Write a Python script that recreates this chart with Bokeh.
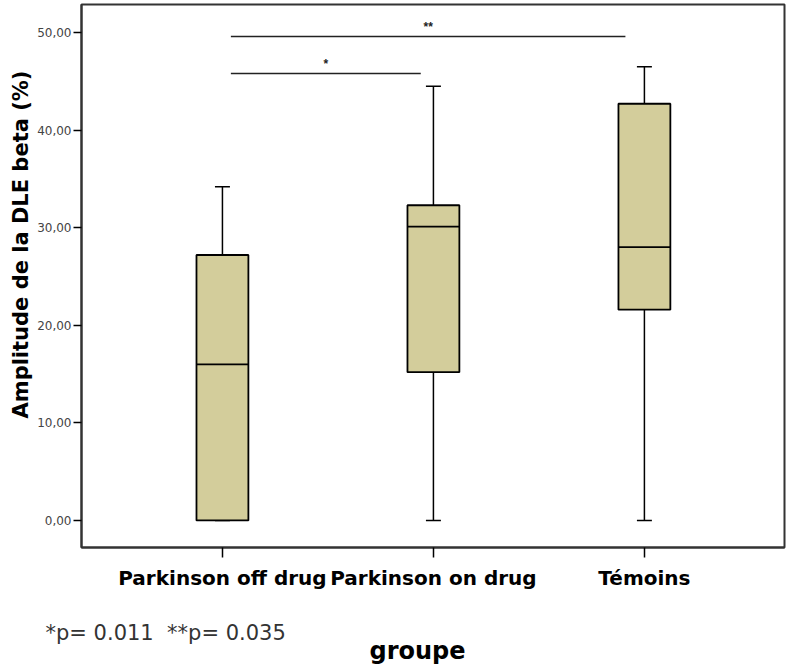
from bokeh.plotting import figure
from bokeh.models import Range1d, FixedTicker, Title, ColumnDataSource
from bokeh.embed import file_html
from bokeh.resources import INLINE

# ---- data ----
groups = ["Parkinson off drug", "Parkinson on drug", "Témoins"]
group_pos = [1, 2, 3]
whisker_low = [0.0, 0.0, 0.0]
q1 = [0.0, 15.2, 21.6]
median = [16.0, 30.1, 28.0]
q3 = [27.2, 32.3, 42.7]
whisker_high = [34.2, 44.5, 46.5]

y_ticks = [0, 10, 20, 30, 40, 50]
y_tick_labels = ["0,00", "10,00", "20,00", "30,00", "40,00", "50,00"]

sig_x0 = [1.04, 1.04]
sig_x1 = [1.94, 2.91]
sig_y = [45.8, 49.6]
sig_label = ["*", "**"]

p_text = "*p= 0.011\u00a0\u00a0**p= 0.035"
x_title = "groupe"
y_title = "Amplitude de la DLE beta (%)"

BOX_W = 0.246
CAP_W = 0.071
FILL = "#d3cd9b"

p = figure(width=787, height=667, output_backend="svg", toolbar_location=None,
           x_range=Range1d(0.332, 3.664), y_range=Range1d(-2.77, 52.87),
           min_border_left=81, min_border_right=3, min_border_top=4,
           min_border_bottom=120)
p.background_fill_color = "white"
p.border_fill_color = "white"
p.outline_line_color = "#333333"
p.outline_line_width = 2
p.xgrid.visible = False
p.ygrid.visible = False

src = ColumnDataSource(dict(x=group_pos, lo=whisker_low, q1=q1, med=median,
                            q3=q3, hi=whisker_high,
                            cl=[v - CAP_W / 2 for v in group_pos],
                            cr=[v + CAP_W / 2 for v in group_pos],
                            bl=[v - BOX_W / 2 for v in group_pos],
                            br=[v + BOX_W / 2 for v in group_pos]))

# whiskers
p.segment(x0="x", y0="q3", x1="x", y1="hi", source=src, line_color="black", line_width=1.5)
p.segment(x0="x", y0="lo", x1="x", y1="q1", source=src, line_color="black", line_width=1.5)
p.segment(x0="cl", y0="hi", x1="cr", y1="hi", source=src, line_color="black", line_width=1.5)
p.segment(x0="cl", y0="lo", x1="cr", y1="lo", source=src, line_color="black", line_width=1.5)
# boxes
p.vbar(x="x", width=BOX_W, bottom="q1", top="q3", source=src,
       fill_color=FILL, line_color="black", line_width=1.8)
p.segment(x0="bl", y0="med", x1="br", y1="med", source=src, line_color="black", line_width=1.8)

# significance bars
ssrc = ColumnDataSource(dict(x0=sig_x0, x1=sig_x1, y=sig_y, t=sig_label,
                             xm=[(a + b) / 2 for a, b in zip(sig_x0, sig_x1)]))
p.segment(x0="x0", y0="y", x1="x1", y1="y", source=ssrc, line_color="#222222", line_width=1.5)
p.text(x="xm", y="y", text="t", source=ssrc, text_align="center", text_baseline="bottom",
       y_offset=-2, text_font_size="12px", text_font_style="bold", text_color="#222222")

# axes
p.yaxis.ticker = FixedTicker(ticks=y_ticks)
p.yaxis.major_label_overrides = {t: l for t, l in zip(y_ticks, y_tick_labels)}
p.yaxis.major_label_text_font_size = "12px"
p.yaxis.major_label_text_color = "#444444"
p.yaxis.major_label_text_font = "DejaVu Sans"
p.yaxis.major_tick_out = 8
p.yaxis.major_tick_in = 0
p.yaxis.minor_tick_line_color = None
p.yaxis.major_label_standoff = 2
p.yaxis.axis_line_width = 2
p.yaxis.axis_line_color = "#333333"
p.yaxis.major_tick_line_width = 1.5

p.xaxis.ticker = FixedTicker(ticks=group_pos)
p.xaxis.major_label_overrides = {g: n for g, n in zip(group_pos, groups)}
p.xaxis.major_label_text_font_size = "20px"
p.xaxis.major_label_text_font = "DejaVu Sans"
p.xaxis.major_label_text_font_style = "bold"
p.xaxis.major_label_text_color = "black"
p.xaxis.major_tick_out = 10
p.xaxis.major_tick_in = 0
p.xaxis.minor_tick_line_color = None
p.xaxis.major_label_standoff = 8
p.xaxis.axis_line_width = 2
p.xaxis.axis_line_color = "#333333"
p.xaxis.major_tick_line_width = 1.5
# invisible spacer label under the tick labels
p.xaxis.axis_label = "\u00a0"
p.xaxis.axis_label_text_font_size = "1px"
p.xaxis.axis_label_standoff = 19

# y title
p.add_layout(Title(text=y_title, align="left", offset=129, text_font="DejaVu Sans",
                   text_font_size="21px", text_font_style="bold", text_color="black",
                   standoff=4), "left")
# footnote and x title
p.add_layout(Title(text=p_text, align="left", offset=-36, text_font="DejaVu Sans",
                   text_font_size="21px", text_font_style="normal", text_color="#333333",
                   standoff=6), "below")
p.add_layout(Title(text=x_title, align="left", offset=288, text_font="DejaVu Sans",
                   text_font_size="24px", text_font_style="bold", text_color="black",
                   standoff=-26), "below")

open("out.html", "w").write(file_html(p, INLINE))
